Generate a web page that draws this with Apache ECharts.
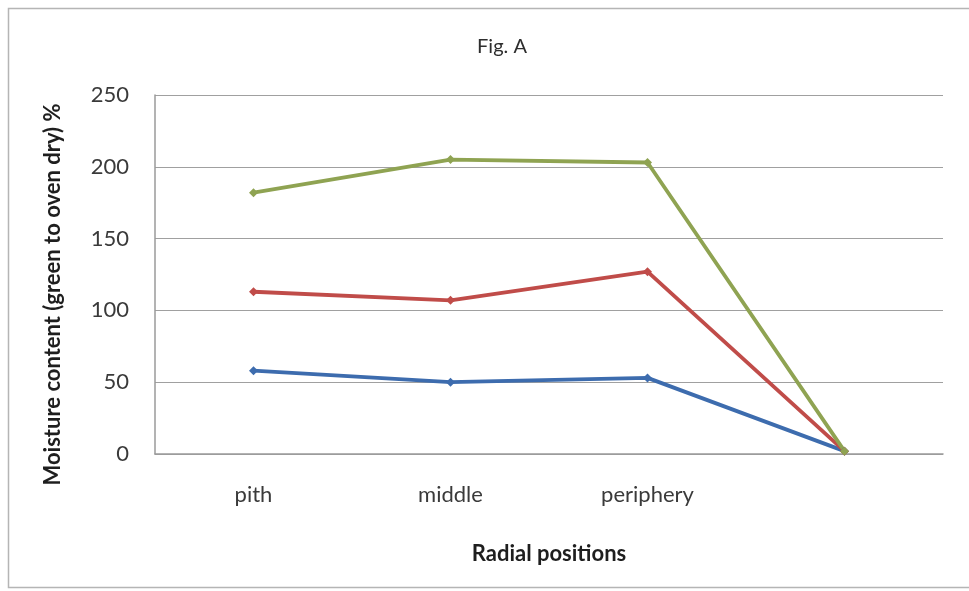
<!DOCTYPE html>
<html>
<head>
<meta charset="utf-8">
<script src="https://cdn.jsdelivr.net/npm/echarts@6/dist/echarts.min.js"></script>
<style>
  html, body { margin: 0; padding: 0; background: #ffffff; }
  #chart { width: 969px; height: 591px; }
</style>
</head>
<body>
<div id="chart"></div>
<script>
// Radial positions along the stem (last slot has no label)
const categories = ['pith', 'middle', 'periphery', ''];
const yTicks = [0, 50, 100, 150, 200, 250];

// Moisture content (%) per series
const greenSeries = [182, 205, 203, 2];
const redSeries = [113, 107, 127, 2];
const blueSeries = [58, 50, 53, 2];

const font = 'Lato, "Open Sans", "DejaVu Sans", sans-serif';

function lineSeries(name, data, color) {
  return {
    name: name,
    type: 'line',
    data: data,
    symbol: 'diamond',
    symbolSize: 9,
    lineStyle: { color: color, width: 3.8 },
    itemStyle: { color: color },
    z: 3
  };
}

const chart = echarts.init(document.getElementById('chart'), null, { renderer: 'canvas' });
chart.setOption({
  backgroundColor: '#ffffff',
  animation: false,
  title: {
    text: 'Fig. A',
    left: 497,
    top: 32,
    textAlign: 'center',
    textStyle: { fontFamily: font, fontSize: 20, fontWeight: 'normal', color: '#2e2e2e' }
  },
  graphic: [{
    type: 'rect',
    shape: { x: 8.5, y: 8.5, width: 980, height: 579 },
    style: { fill: 'none', stroke: '#b5b5b5', lineWidth: 1.5 },
    silent: true
  }],
  grid: { left: 155, right: 26, top: 95, bottom: 137 },
  xAxis: {
    type: 'category',
    data: categories,
    boundaryGap: true,
    name: 'Radial positions',
    nameLocation: 'middle',
    nameGap: 89,
    nameTextStyle: { fontFamily: font, fontSize: 22, fontWeight: 'bold', color: '#1e1e1e' },
    axisLine: { show: true, lineStyle: { color: '#9a9a9a', width: 1.5 } },
    axisTick: { show: false },
    axisLabel: { fontFamily: font, fontSize: 22, color: '#3a3a3a', margin: 30 },
    splitLine: { show: false }
  },
  yAxis: {
    type: 'value',
    min: yTicks[0],
    max: yTicks[yTicks.length - 1],
    interval: yTicks[1] - yTicks[0],
    name: 'Moisture content (green to oven dry) %',
    nameLocation: 'middle',
    nameGap: 91,
    nameRotate: 90,
    nameTextStyle: {
      fontFamily: font, fontSize: 22, fontWeight: 'bold', color: '#1e1e1e',
      padding: [0, 40, 0, 0]
    },
    axisLine: { show: true, lineStyle: { color: '#9a9a9a', width: 1.5 } },
    axisTick: { show: false },
    axisLabel: { fontFamily: font, fontSize: 22, color: '#3a3a3a', margin: 26 },
    splitLine: { show: true, lineStyle: { color: '#a0a0a0', width: 1.2 } }
  },
  series: [
    lineSeries('blue', blueSeries, '#3d6cae'),
    lineSeries('red', redSeries, '#c04c49'),
    lineSeries('green', greenSeries, '#8fa352')
  ]
});
</script>
</body>
</html>
